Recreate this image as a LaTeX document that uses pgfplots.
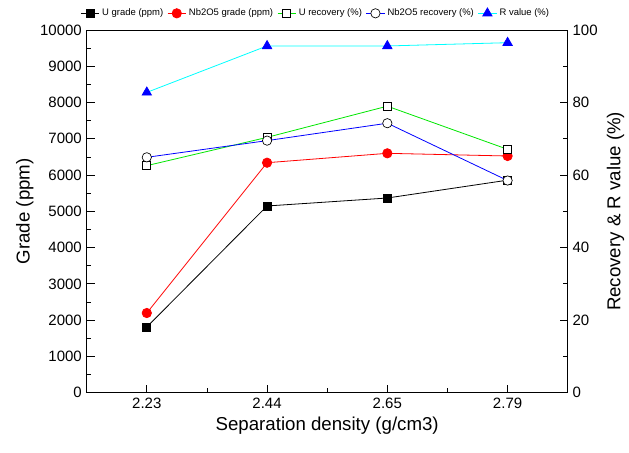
\documentclass[border=0pt]{standalone}
\usepackage{fontspec}
\setmainfont{Liberation Sans}
\usepackage{pgfplots}
\pgfplotsset{compat=1.18}
\definecolor{mygreen}{RGB}{0,230,0}
\definecolor{mycyan}{RGB}{0,255,255}
\begin{document}
\begin{tikzpicture}
\pgfplotsset{
  every axis/.append style={
    scale only axis, width=360.75pt, height=272pt,
    xmin=-0.5, xmax=3.5,
    tick align=inside,
    /pgf/number format/assume math mode=true,
    tick label style={font=\fontsize{11.25}{13}\selectfont},
    label style={font=\fontsize{14}{16}\selectfont},
    major tick length=6pt, minor tick length=3.5pt,
    line width=0.6pt,
    every tick/.style={black, line width=0.6pt},
  },
  legend image code/.code={\draw[mark repeat=2,mark phase=2,#1] plot coordinates {(0cm,0cm)(0.24cm,0cm)(0.48cm,0cm)};},
}
\begin{axis}[
  ymin=0, ymax=10000,
  ytick={0,1000,...,10000},
  minor y tick num=1,
  xtick={0,1,2,3},
  xticklabels={2.23,2.44,2.65,2.79},
  minor x tick num=1,
  xtick pos=bottom, ytick pos=left,
  scaled y ticks=false,
  yticklabel style={/pgf/number format/.cd, fixed, 1000 sep={}},
  xlabel={Separation density (g/cm3)},
  ylabel={Grade (ppm)},
  ylabel style={yshift=-2pt},
]
\addplot[black, line width=0.6pt, mark=square*, mark size=3pt, mark options={fill=black}]
  coordinates {(0,1811) (1,5148) (2,5368) (3,5860)};
\addplot[red, line width=0.6pt, mark=*, mark size=3.5pt, mark options={fill=red}]
  coordinates {(0,2197) (1,6341) (2,6600) (3,6526)};
\end{axis}
\begin{axis}[
  ymin=0, ymax=100,
  ytick={0,20,...,100},
  minor y tick num=1,
  axis y line*=right,
  axis x line=none,
  ylabel={Recovery \& R value (\%)},
  legend columns=5,
  legend style={draw=none, fill=none, font=\fontsize{7.1}{8.5}\selectfont,
    at={(0.477,1)}, anchor=center, yshift=12.5pt,
    /tikz/every even column/.append style={column sep=1pt},
    inner sep=0pt},
]
\addlegendimage{black, line width=0.6pt, mark=square*, mark size=3pt, mark options={fill=black}}
\addlegendentry{U grade (ppm)}
\addlegendimage{red, line width=0.6pt, mark=*, mark size=3.5pt, mark options={fill=red}}
\addlegendentry{Nb2O5 grade (ppm)}
\addplot[mygreen, line width=0.6pt, mark=square*, mark size=3pt, mark options={fill=white, draw=black, line width=0.5pt}]
  coordinates {(0,62.6) (1,70.4) (2,79.0) (3,67.1)};
\addlegendentry{U recovery (\%)}
\addplot[blue, line width=0.6pt, mark=*, mark size=3.5pt, mark options={fill=white, draw=black, line width=0.5pt}]
  coordinates {(0,64.9) (1,69.5) (2,74.3) (3,58.5)};
\addlegendentry{Nb2O5 recovery (\%)}
\addplot[mycyan, line width=0.6pt, mark=triangle*, mark size=4pt, mark options={fill=blue, draw=blue}]
  coordinates {(0,82.8) (1,95.6) (2,95.6) (3,96.5)};
\addlegendentry{R value (\%)}
\end{axis}
\pgfresetboundingbox
\path[use as bounding box] (-65pt,-44.5pt) rectangle (406.7pt,294.5pt);
\end{tikzpicture}
\end{document}
